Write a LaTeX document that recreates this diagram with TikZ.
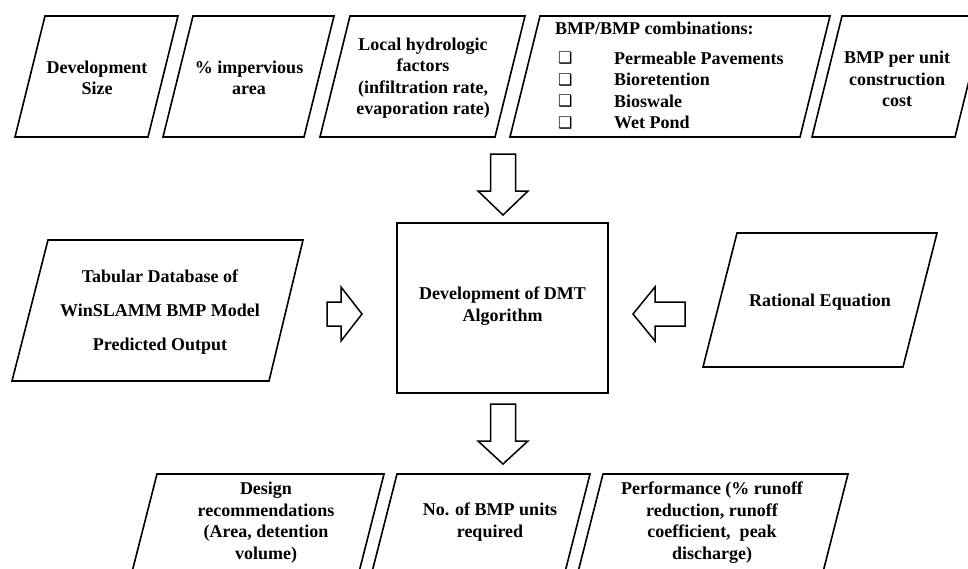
\documentclass[tikz,border=0pt]{standalone}
\usepackage{fontspec}
\setmainfont{Liberation Serif}
\newfontfamily\symfont{DejaVu Sans}
\newcommand\shadowbox{\makebox[56pt][l]{\raisebox{0.5pt}{\symfont\fontsize{16}{16}\selectfont ❑}}}
\begin{document}
\begin{tikzpicture}[x=1pt,y=-1pt,
  lbl/.style={font=\bfseries\fontsize{18}{21.5}\selectfont, align=center, inner sep=0pt},
  lblwide/.style={font=\bfseries\fontsize{18}{34}\selectfont, align=center, inner sep=0pt},
  item/.style={font=\bfseries\fontsize{18}{21.5}\selectfont, anchor=west, inner sep=0pt},
  shp/.style={draw=black, line width=1.6pt, line join=miter},
  barrow/.style={draw=black, line width=1.5pt, fill=white, line join=miter}]
\useasboundingbox (0,0) rectangle (968,568);
\clip (0,0) rectangle (968,568);

% ---------- top row ----------
\draw[shp] (45,16) -- (178,16) -- (148,137) -- (15,137) -- cycle;
\node[lbl] (dev) at (97,78) {Development\\Size};

\draw[shp] (193,16) -- (334,16) -- (304,137) -- (163,137) -- cycle;
\node[lbl] (imp) at (249,78) {\% impervious\\area};

\draw[shp] (350,16) -- (525,16) -- (495,137) -- (320,137) -- cycle;
\node[lbl] (hyd) at (423,78) {Local hydrologic\\factors\\(infiltration rate,\\evaporation rate)};

\draw[shp] (540,16) -- (830,16) -- (800,137) -- (510,137) -- cycle;
\node[item] (bmph) at (555,28) {BMP/BMP combinations:};
\node[item] (b1) at (558,58) {\shadowbox Permeable Pavements};
\node[item] (b2) at (558,79.5) {\shadowbox Bioretention};
\node[item] (b3) at (558,101) {\shadowbox Bioswale};
\node[item] (b4) at (558,122.5) {\shadowbox Wet Pond};

\draw[shp] (842,16) -- (985,16) -- (955,137) -- (812,137) -- cycle;
\node[lbl] (cost) at (897,79) {BMP per unit\\construction\\cost};

% ---------- middle row ----------
\node[shp, minimum width=211pt, minimum height=170pt, inner sep=0pt] (dmt) at (502.5,308) {};
\node[lbl] (dmtt) at (502.5,306) {Development of DMT\\Algorithm};

\draw[shp] (48,240) -- (303,240) -- (269,381) -- (12,381) -- cycle;
\node[lblwide] (tab) at (160,312) {Tabular Database of\\WinSLAMM BMP Model\\Predicted Output};

\draw[shp] (737,233) -- (937,233) -- (903,367) -- (703,367) -- cycle;
\node[lbl] (rat) at (820,302) {Rational Equation};

% ---------- block arrows ----------
\coordinate (t1) at (503,215);
\draw[barrow] (t1) -- ++(-25,-24) -- ++(12.5,0) -- ++(0,-37) -- ++(25,0) -- ++(0,37) -- ++(12.5,0) -- cycle;

\coordinate (t2) at (503,464);
\draw[barrow] (t2) -- ++(-25,-23) -- ++(12.5,0) -- ++(0,-37) -- ++(25,0) -- ++(0,37) -- ++(12.5,0) -- cycle;

\coordinate (t3) at (362,314);
\draw[barrow] (t3) -- ++(-21,-27) -- ++(0,15) -- ++(-14,0) -- ++(0,24) -- ++(14,0) -- ++(0,15) -- cycle;

\coordinate (t4) at (633,314);
\draw[barrow] (t4) -- ++(22,-27) -- ++(0,15) -- ++(30,0) -- ++(0,24) -- ++(-30,0) -- ++(0,15) -- cycle;

% ---------- bottom row ----------
\draw[shp] (131,576) -- (157,474) -- (384,474) -- (358,576);
\node[lbl] (des) at (266,522.5) {Design\\recommendations\\(Area, detention\\volume)};

\draw[shp] (371,576) -- (397,474) -- (590,474) -- (564,576);
\node[lbl] (nob) at (490,522) {No. of BMP units\\required};

\draw[shp] (577,576) -- (603,474) -- (848,474) -- (822,576);
\node[lbl] (perf) at (712,522.5) {Performance (\% runoff\\reduction, runoff\\coefficient,\ \ peak\\discharge)};
\end{tikzpicture}
\end{document}
